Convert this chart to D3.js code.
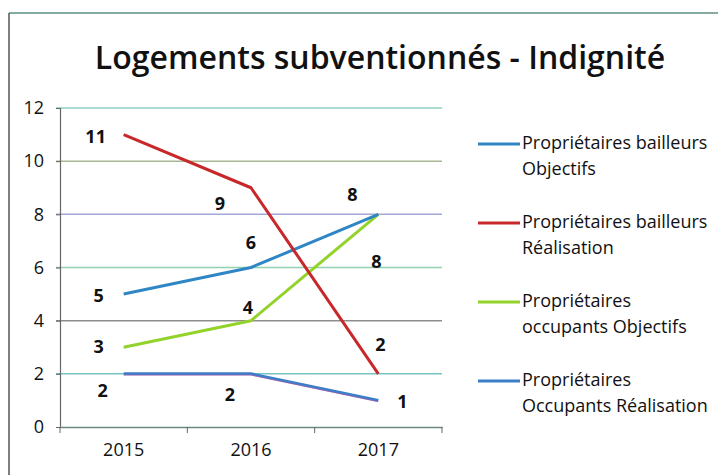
<!DOCTYPE html>
<html><head><meta charset="utf-8">
<script src="https://cdn.jsdelivr.net/npm/d3@7"></script>
<style>
html,body{margin:0;padding:0;background:#fff;}
svg{display:block;}
text{font-family:"Open Sans","Noto Sans",sans-serif;}
</style></head>
<body><svg id="c" width="718" height="475"></svg>
<script>
const categories = ["2015", "2016", "2017"];
const seriesNames = [
  ["Propriétaires bailleurs", "Objectifs"],
  ["Propriétaires bailleurs", "Réalisation"],
  ["Propriétaires", "occupants Objectifs"],
  ["Propriétaires", "Occupants Réalisation"]
];
const pbObjectifs = [5, 6, 8];
const pbRealisation = [11, 9, 2];
const poObjectifs = [3, 4, 8];
const poRealisation = [2, 2, 1];
const yTicks = [0, 2, 4, 6, 8, 10, 12];
const title = "Logements subventionnés - Indignité";

const seriesValues = [pbObjectifs, pbRealisation, poObjectifs, poRealisation];
const colors = ["#2f86c4", "#c8282a", "#93d22a", "#3a7fc8"];
// label offsets (px) relative to each point, mimicking the manually placed labels
const labelOffsets = [
  [[-25, 3], [0, -23], [-26, -18]],
  [[-28, 4], [-31, 17], [2, -28]],
  [[-25, 1], [-3, -11], [-2, 49]],
  [[-21, 18], [-21, 22], [24, 3]]
];
const gridColors = {12:"#8fcfc0",10:"#a9b693",8:"#a4a8d8",6:"#94cfae",4:"#8d8d8d",2:"#78c4c4",0:"#8fb8a8"};

const svg = d3.select("#c");
// frame
svg.append("line").attr("x1",9).attr("x2",718).attr("y1",13).attr("y2",13).attr("stroke","#5e8f84").attr("stroke-width",1.5);
svg.append("line").attr("x1",9).attr("x2",9).attr("y1",13).attr("y2",475).attr("stroke","#555").attr("stroke-width",1.5);

svg.append("text").attr("x",380).attr("y",69).attr("text-anchor","middle")
  .attr("font-size",32).attr("font-weight",600).attr("fill","#111").text(title);

const pLeft = 60, pRight = 442, pTop = 108, pBottom = 427;
const x = d3.scaleBand().domain(categories).range([pLeft, pRight]);
const y = d3.scaleLinear().domain([0, 12]).range([pBottom, pTop]);

// gridlines
svg.append("g").selectAll("line").data(yTicks.filter(t => t > 0)).join("line")
  .attr("x1", pLeft - 4).attr("x2", pRight).attr("y1", d => y(d)).attr("y2", d => y(d))
  .attr("stroke", d => gridColors[d]).attr("stroke-width", 1.5);

// y axis
const yAxis = svg.append("g").attr("transform", `translate(${pLeft},0)`)
  .call(d3.axisLeft(y).tickValues(yTicks).tickSize(4).tickPadding(12));
yAxis.select(".domain").attr("stroke","#666").attr("stroke-width",1.2);
yAxis.selectAll(".tick line").attr("stroke","#666");
yAxis.selectAll("text").style("font-size","18px").attr("fill","#111");

// x axis
const xAxis = svg.append("g").attr("transform", `translate(0,${pBottom})`)
  .call(d3.axisBottom(x).tickSize(0).tickPadding(16));
xAxis.select(".domain").attr("stroke","#6a8a80").attr("stroke-width",1.5);
xAxis.selectAll("text").style("font-size","18px").attr("fill","#111");
// category boundary ticks
svg.append("g").selectAll("line").data(categories.concat(["end"])).join("line")
  .attr("x1", (d,i) => pLeft + i * x.step()).attr("x2", (d,i) => pLeft + i * x.step())
  .attr("y1", pBottom).attr("y2", pBottom + 6).attr("stroke","#666").attr("stroke-width",1);

const line = d3.line().x((d,i) => x(categories[i]) + x.bandwidth()/2).y(d => y(d));

const drawOrder = [3, 2, 0, 1];
drawOrder.forEach(si => {
  svg.append("path").datum(seriesValues[si]).attr("d", line)
    .attr("fill","none").attr("stroke", colors[si]).attr("stroke-width", 3)
    .attr("stroke-linejoin","round");
});
svg.append("path").datum(poRealisation).attr("d", line)
  .attr("transform","translate(0,1.3)")
  .attr("fill","none").attr("stroke","#c04aa0").attr("stroke-width",0.8).attr("opacity",0.7);

// labels
seriesValues.forEach((vals, si) => {
  svg.append("g").selectAll("text").data(vals).join("text")
    .attr("x", (d,i) => x(categories[i]) + x.bandwidth()/2 + labelOffsets[si][i][0])
    .attr("y", (d,i) => y(d) + labelOffsets[si][i][1])
    .attr("text-anchor","middle").attr("dominant-baseline","middle")
    .style("font-size","18px").attr("font-weight",700).attr("fill","#111")
    .text(d => d);
});

// legend
const legendY = [144, 223, 302, 381];
const lg = svg.append("g");
seriesNames.forEach((nm, i) => {
  lg.append("line").attr("x1",478).attr("x2",520).attr("y1",legendY[i]).attr("y2",legendY[i])
    .attr("stroke", colors[i]).attr("stroke-width",3);
  const t = lg.append("text").attr("x",522).attr("y",legendY[i]).attr("dominant-baseline","middle")
    .style("font-size","18px").attr("fill","#111");
  t.append("tspan").attr("x",522).attr("dy",0).text(nm[0]);
  t.append("tspan").attr("x",522).attr("dy",26).text(nm[1]);
});
</script></body></html>
